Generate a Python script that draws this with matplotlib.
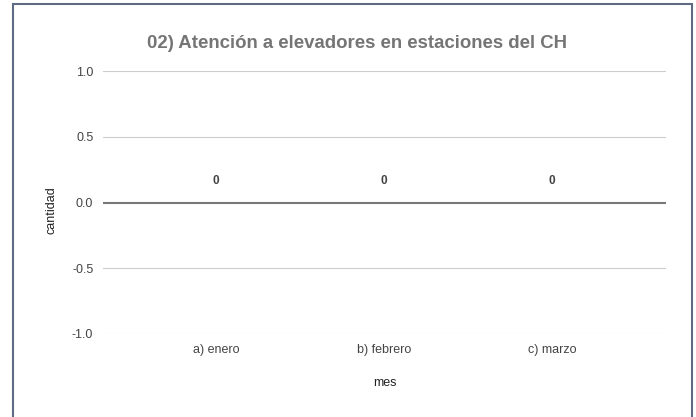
import matplotlib.pyplot as plt
from matplotlib.patches import Rectangle

meses = ["a) enero", "b) febrero", "c) marzo"]
cantidad = [0, 0, 0]
yticks = [-1.0, -0.5, 0.0, 0.5, 1.0]

plt.rcParams['font.family'] = ['Liberation Sans', 'DejaVu Sans']

W, H = 696, 417
fig = plt.figure(figsize=(W / 100, H / 100), dpi=100)
# plot area in pixels: x 103..666, y 71 (1.0) .. 334 (-1.0)
ax = fig.add_axes([103 / W, 1 - 334 / H, (666 - 103) / W, (334 - 71) / H])

xs = list(range(len(meses)))
ax.bar(xs, cantidad, width=0.6, color="#4285f4")
for x, v in zip(xs, cantidad):
    ax.annotate(str(v), (x, v), xytext=(0, 11), textcoords="offset points",
                ha="center", va="bottom", fontsize=8.5, fontweight="bold", color="#444444")

ax.set_xlim((103 - 216) / 168, (666 - 216) / 168)
ax.set_ylim(-1.0, 1.0)
ax.set_yticks(yticks)
ax.set_yticklabels(["%.1f" % t for t in yticks])
ax.set_xticks(xs)
ax.set_xticklabels(meses)
for t in yticks:
    if t == 0:
        ax.axhline(t, color="#777777", lw=1.5, zorder=3)
    else:
        ax.axhline(t, color="#cccccc", lw=0.8, zorder=0)
for s in ax.spines.values():
    s.set_visible(False)
ax.tick_params(axis="both", length=0, labelsize=9, colors="#444444", pad=7)
ax.tick_params(axis="x", pad=7)
ax.set_xlabel("mes", fontsize=9, color="#222222", labelpad=15)
ax.set_ylabel("cantidad", fontsize=9, color="#222222")
ax.yaxis.set_label_coords(-0.08, 0.47)
fig.text(357 / W, 1 - 44 / H, "02) Atención a elevadores en estaciones del CH",
         ha="center", va="center", fontsize=13.4, fontweight="bold", color="#757575")

# frame around the chart
fig.patches.append(Rectangle((12.5 / W, -0.05), (692 - 12.5) / W, 1.05 - 3.5 / H,
                             transform=fig.transFigure, fill=False,
                             edgecolor="#5f6b85", lw=1.5))

fig.savefig("out.png", dpi=100)
